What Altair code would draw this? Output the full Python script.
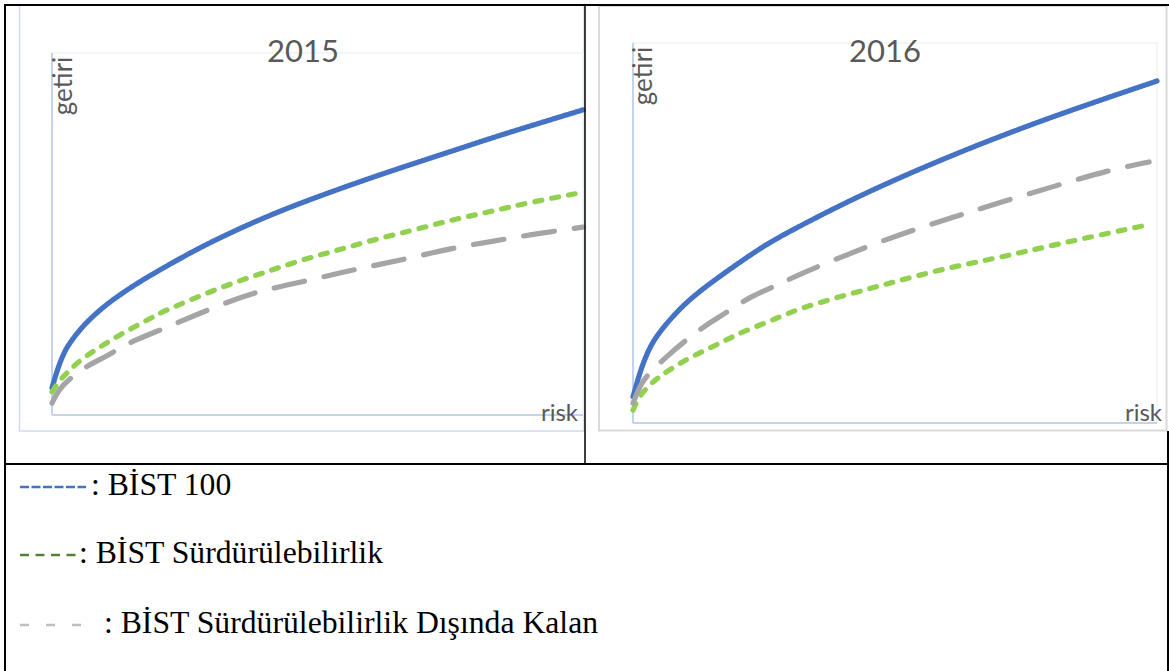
import altair as alt
import pandas as pd

W, H = 1169, 671

SERIES = ["BİST 100", "BİST Sürdürülebilirlik", "BİST Sürdürülebilirlik Dışında Kalan"]
COLORS = ["#4472C4", "#92D050", "#A5A5A5"]
DASHES = [[1, 0], [7, 10], [31, 20]]

YEARS = ["2015", "2016"]
X_LABEL = "risk"
Y_LABEL = "getiri"

# ---- 2015 (arbitrary 0-100 units) ----
risk_2015_b100 = [0, 0.6, 1.2, 2.4, 3.7, 5.0, 6.8, 8.7, 11.2, 14.4, 17.5, 21.3, 27.0, 32.8, 39.7, 46.9, 54.0, 61.0, 68.2, 75.3, 82.3, 89.5, 100]
getiri_2015_b100 = [7.5, 10.5, 13.3, 17.8, 20.6, 23.1, 26.0, 28.6, 31.6, 34.8, 37.7, 40.9, 45.6, 49.8, 54.4, 58.6, 62.4, 66.0, 69.5, 72.9, 76.3, 79.6, 84.3]
risk_2015_surd = [0, 1.5, 2.8, 4.7, 7.5, 10.6, 13.7, 16.9, 20.0, 22.8, 32.8, 39.7, 46.9, 54.0, 61.0, 68.2, 75.3, 82.3, 89.5, 99.2]
getiri_2015_surd = [6.4, 9.7, 11.6, 14.4, 17.4, 20.2, 22.9, 25.4, 27.9, 29.8, 35.9, 39.2, 42.8, 45.6, 48.6, 51.1, 53.9, 56.1, 58.6, 61.3]
risk_2015_disi = [0, 1.2, 3.4, 6.8, 10.0, 12.2, 15.6, 21.3, 32.8, 39.7, 46.9, 54.0, 61.0, 68.2, 75.3, 82.3, 89.5, 100]
getiri_2015_disi = [3.3, 6.9, 10.2, 13.8, 16.0, 18.0, 20.7, 24.0, 31.2, 34.5, 36.7, 39.2, 41.4, 43.6, 46.1, 47.8, 49.7, 51.9]

# ---- 2016 ----
risk_2016_b100 = [0, 0.9, 1.9, 3.4, 5.0, 7.6, 10.1, 13.3, 17.1, 20.9, 23.5, 26.3, 31.9, 44.1, 61.8, 79.6, 100]
getiri_2016_b100 = [6.9, 11.3, 15.7, 20.5, 23.8, 28.1, 31.6, 35.3, 39.1, 42.8, 45.2, 47.7, 51.9, 60.5, 71.1, 80.5, 90.0]
risk_2016_surd = [0, 1.2, 2.8, 5.0, 7.9, 11.1, 14.6, 17.7, 20.9, 26.7, 31.9, 42.0, 49.8, 58.4, 67.6, 76.1, 84.7, 98.1]
getiri_2016_surd = [3.4, 6.9, 9.6, 12.2, 14.8, 17.4, 19.7, 21.8, 24.0, 27.1, 30.3, 34.2, 37.1, 40.3, 42.9, 45.5, 48.2, 52.1]
risk_2016_disi = [0, 1.5, 3.1, 6.3, 10.1, 13.9, 17.7, 22.2, 28.1, 31.3, 40.6, 50.6, 60.5, 70.4, 81.1, 91.0, 98.5]
getiri_2016_disi = [5.2, 10.4, 13.1, 17.4, 21.8, 25.8, 28.9, 33.2, 36.6, 38.9, 44.2, 49.5, 53.9, 58.2, 62.6, 66.6, 68.7]

LEGEND_TEXT = [": BİST 100", ": BİST Sürdürülebilirlik", ": BİST Sürdürülebilirlik Dışında Kalan"]
LEGEND_SAMPLE_COLORS = ["#4472C4", "#548235", "#BFBFBF"]


def frame(risks, getiris):
    rows = []
    for s, xs, ys in zip(SERIES, risks, getiris):
        for i, (a, b) in enumerate(zip(xs, ys)):
            rows.append({"seri": s, "risk": a, "getiri": b, "i": i})
    return pd.DataFrame(rows)


df2015 = frame([risk_2015_b100, risk_2015_surd, risk_2015_disi],
               [getiri_2015_b100, getiri_2015_surd, getiri_2015_disi])
df2016 = frame([risk_2016_b100, risk_2016_surd, risk_2016_disi],
               [getiri_2016_b100, getiri_2016_surd, getiri_2016_disi])

one = pd.DataFrame({"d": [0]})


def rule(x, x2, y, y2, color, width, dash=None):
    kw = dict(color=color, strokeWidth=width)
    if dash:
        kw["strokeDash"] = dash
    return alt.Chart(one).mark_rule(**kw).encode(
        x=alt.value(x), x2=alt.value(x2), y=alt.value(y), y2=alt.value(y2))


def box(x, x2, y, y2, color, width):
    return alt.Chart(one).mark_rect(fill="transparent", stroke=color, strokeWidth=width).encode(
        x=alt.value(x), x2=alt.value(x2), y=alt.value(y), y2=alt.value(y2))


def lines(df, xr, yr):
    xs = alt.Scale(domain=[0, 100], range=xr, nice=False, zero=False)
    ys = alt.Scale(domain=[0, 100], range=yr, nice=False, zero=False)
    return alt.Chart(df).mark_line(strokeWidth=5.2, strokeCap="round", interpolate="basis").encode(
        x=alt.X("risk:Q", scale=xs, axis=None),
        y=alt.Y("getiri:Q", scale=ys, axis=None),
        color=alt.Color("seri:N", scale=alt.Scale(domain=SERIES, range=COLORS), legend=None),
        strokeDash=alt.StrokeDash("seri:N", scale=alt.Scale(domain=SERIES, range=DASHES), legend=None),
        order=alt.Order("i:Q"),
    )


def text(t, x, y, size, font, color, align="left", angle=0, baseline="alphabetic"):
    kw = dict(fontSize=size, font=font, color=color, align=align, baseline=baseline)
    if angle:
        kw["angle"] = angle
    return alt.Chart(pd.DataFrame({"t": [t]})).mark_text(**kw).encode(
        text="t:N", x=alt.value(x), y=alt.value(y))


GRAY_TXT = "#595959"
AXIS_BLUE = "#B4C7E7"
FAINT = "#EEF2F9"
SERIF = "Liberation Serif"

layers = [
    # chart frames
    box(19.5, 584, 5, 431, "#CFDBEF", 1.5),
    box(599, 1166.5, 6, 430.5, "#D9D9D9", 2),
    # inner plot boxes
    box(52, 583, 53, 415, FAINT, 1.5),
    rule(52, 52, 53, 415, AXIS_BLUE, 1.5),
    rule(52, 583, 415, 415, AXIS_BLUE, 1.5),
    box(633, 1157, 43, 423, FAINT, 1.5),
    rule(633, 633, 43, 423, AXIS_BLUE, 1.5),
    rule(633, 1157, 423, 423, AXIS_BLUE, 1.5),
    # curves
    lines(df2015, [52, 583], [415, 53]),
    lines(df2016, [633, 1157], [423, 43]),
    # chart texts
    text(YEARS[0], 303, 62, 31, "Lato", GRAY_TXT, align="center"),
    text(YEARS[1], 885, 62, 31, "Lato", GRAY_TXT, align="center"),
    text(Y_LABEL, 72, 86, 26, "Lato", GRAY_TXT, align="center", angle=270),
    text(Y_LABEL, 652, 76, 26, "Lato", GRAY_TXT, align="center", angle=270),
    text(X_LABEL, 578, 421, 24, "Lato", GRAY_TXT, align="right"),
    text(X_LABEL, 1162, 421, 24, "Lato", GRAY_TXT, align="right"),
    # table lines
    rule(4, 1169, 5, 5, "#000000", 2),
    rule(5, 5, 4, 671, "#000000", 2),
    rule(585, 585, 5, 464, "#000000", 1.5),
    rule(4, 1169, 464, 464, "#000000", 2),
    rule(1168, 1168, 431, 671, "#000000", 2),
    # legend samples
    rule(20, 86, 487, 487, LEGEND_SAMPLE_COLORS[0], 2.5, [9, 2.5]),
    rule(20, 77, 555, 555, LEGEND_SAMPLE_COLORS[1], 2.5, [9, 6.5]),
    rule(20, 83, 625, 625, LEGEND_SAMPLE_COLORS[2], 2.5, [9, 17]),
    text(LEGEND_TEXT[0], 91, 495, 31.7, SERIF, "#000000"),
    text(LEGEND_TEXT[1], 79, 563, 31.7, SERIF, "#000000"),
    text(LEGEND_TEXT[2], 104, 633, 31.7, SERIF, "#000000"),
]

chart = alt.layer(*layers).resolve_scale(
    x="independent", y="independent", color="independent", strokeDash="independent"
).properties(
    width=W, height=H, autosize=alt.AutoSizeParams(type="none"), padding=0, background="white"
).configure_view(strokeWidth=0)

chart.save("out.html", embed_options={"renderer": "svg", "actions": False})
